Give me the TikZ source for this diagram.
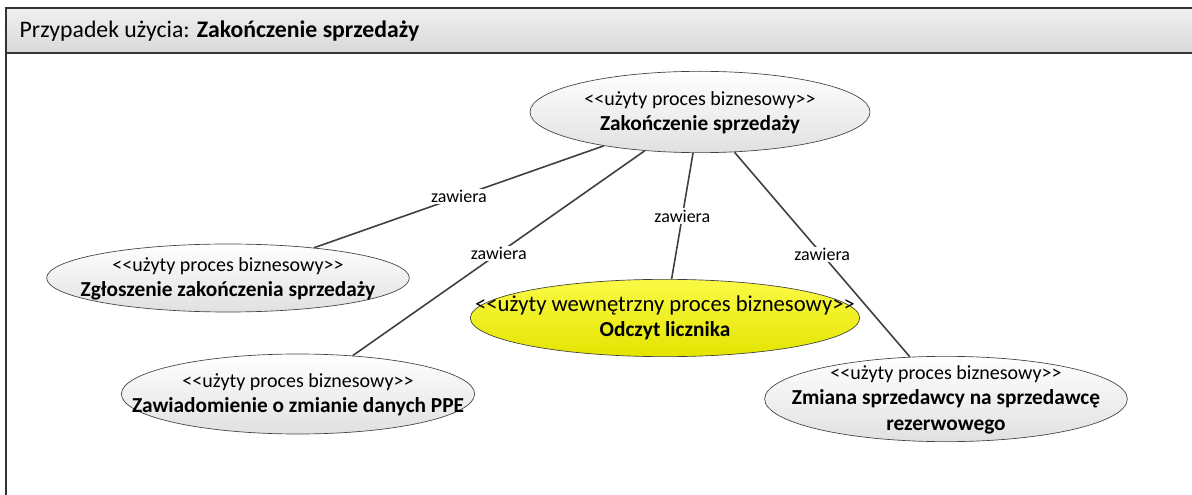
\documentclass[tikz,border=0pt]{standalone}
\usepackage{fontspec}
\setmainfont{Carlito}
\usetikzlibrary{shapes.geometric,positioning}

\begin{document}
\begin{tikzpicture}[
    x=0.75pt, y=-0.75pt,
    frame/.style      = {line width=1.5pt, draw=black!80},
    headerfill/.style = {top color=black!6, bottom color=black!15},
    usecase/.style    = {ellipse, draw=black!75, line width=0.5pt, inner sep=0pt,
                         font=\fontsize{16}{19}\selectfont,
                         top color=white, bottom color=black!12},
    internal/.style   = {usecase, top color={rgb,255:red,250;green,250;blue,70},
                         bottom color={rgb,255:red,228;green,228;blue,0}},
    incl/.style       = {draw=black!75, line width=1.2pt},
    incl-lbl/.style   = {fill=white, inner sep=1pt, font=\fontsize{13.5}{16}\selectfont}
  ]

% text block with no size, so it may run over the ellipse edge
\newcommand{\uctext}[1]{\makebox[0pt]{\raisebox{-0.3em}[0pt][0pt]{%
  \begin{tabular}{@{}c@{}}#1\end{tabular}}}}
\newcommand{\stereo}[2][15]{{\fontsize{#1}{19}\selectfont<\kern0pt<#2>\kern0pt>}}

\useasboundingbox (0,0) rectangle (1192,495);

% =========================================================
% Frame with title bar
% =========================================================
\draw[frame, headerfill] (6,8) rectangle (1200,53);
\draw[frame] (6,53) -- (6,500);
\node[anchor=west, font=\fontsize{17.8}{20}\selectfont] (title) at (15,31)
  {Przypadek użycia: \textbf{Zakończenie sprzedaży}};

% =========================================================
% Use cases
% =========================================================
\node[usecase, minimum width=255pt, minimum height=61pt] (main) at (700,112)
  {\uctext{\stereo{użyty proces biznesowy}\\ \textbf{Zakończenie sprzedaży}}};

\node[usecase, minimum width=272pt, minimum height=51pt] (report) at (228,278)
  {\uctext{\stereo{użyty proces biznesowy}\\ \textbf{Zgłoszenie zakończenia sprzedaży}}};

\node[internal, minimum width=292pt, minimum height=58pt] (meter) at (665,318)
  {\uctext{\stereo[17]{użyty wewnętrzny proces biznesowy}\\ \textbf{Odczyt licznika}}};

\node[usecase, minimum width=265pt, minimum height=60pt] (notice) at (298,394)
  {\uctext{\stereo{użyty proces biznesowy}\\ \textbf{Zawiadomienie o zmianie danych PPE}}};

\node[usecase, minimum width=272pt, minimum height=64pt] (reserve) at (946,399)
  {\uctext{\stereo{użyty proces biznesowy}\\ \textbf{Zmiana sprzedawcy na sprzedawcę}\\
   \textbf{rezerwowego}}};

% =========================================================
% Include relations
% =========================================================
\draw[incl] (main) -- node[incl-lbl] (l1) {zawiera} (report);
\draw[incl] (main) -- node[incl-lbl] (l2) {zawiera} (notice);
\draw[incl] (main) -- node[incl-lbl] (l3) {zawiera} (meter);
\draw[incl] (main) -- node[incl-lbl] (l4) {zawiera} (reserve);

\end{tikzpicture}
\end{document}
